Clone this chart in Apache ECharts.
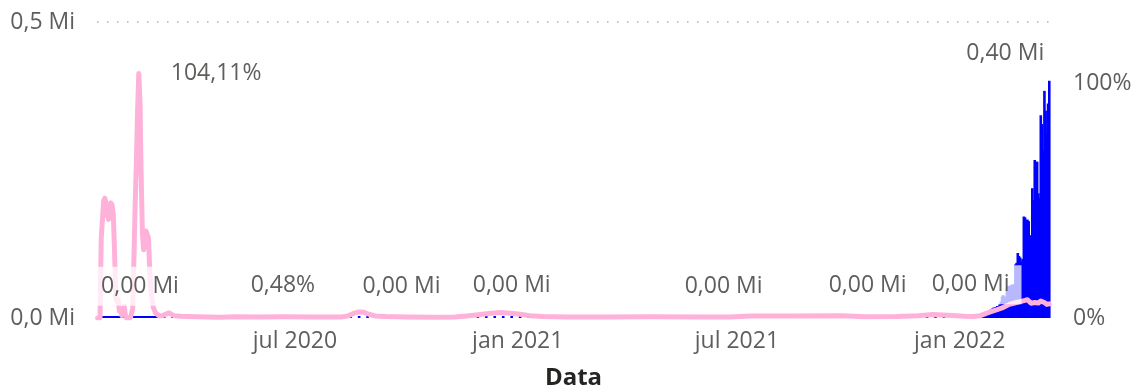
<!DOCTYPE html>
<html>
<head>
<meta charset="utf-8">
<script src="https://cdn.jsdelivr.net/npm/echarts@6/dist/echarts.min.js"></script>
<style>
  html, body { margin: 0; padding: 0; background: #ffffff; }
  #chart { width: 1132px; height: 391px; }
</style>
</head>
<body>
<div id="chart"></div>
<script>
// ---- data ----
const monthNames = ['jan', 'fev', 'mar', 'abr', 'mai', 'jun', 'jul', 'ago', 'set', 'out', 'nov', 'dez'];
const xTickDates = ['2020-07-01', '2021-01-01', '2021-07-01', '2022-01-01'];

// daily new cases, 2020-01-20 .. 2020-03-15
const casesEarlyStart = '2020-01-20';
const casesEarly = [
  1, 0, 0, 0, 1, 0, 1, 1, 0, 0, 2, 4,
  1, 3, 0, 1, 2, 5, 1, 0, 3, 0, 1, 0, 0, 0, 0, 1, 1, 1, 20, 53, 100, 229, 169, 231, 144, 284, 505, 571, 813,
  586, 599, 851, 435, 467, 505, 448, 272, 248, 131, 242, 114, 110, 107, 76
];

// weekly samples of new cases, 2020-03-22 .. 2021-12-26
const casesWeeklyStart = '2020-03-22';
const casesWeekly = [
  98, 105, 81, 32, 8, 10, 13, 34, 15, 25, 27, 57, 37, 17, 62, 61, 62, 26, 25, 30, 36,
  279, 397, 299, 167, 121, 82, 95, 64, 58, 76, 61, 124, 143, 223, 330, 450, 631, 1030, 1097, 970,
  1020, 665, 520, 437, 355, 393, 344, 416, 355, 416, 459, 456, 482, 543, 614, 672, 644, 606, 525, 610,
  530, 480, 556, 452, 429, 614, 743, 1324, 1454, 1487, 1219, 1729, 1817, 1626, 1619, 1490, 1755, 1909, 3272, 2086,
  1594, 1420, 1423, 2061, 2224, 2419, 3120, 3925, 5128, 6874, 6236, 5419
];

// daily new cases, 2022-01-01 .. 2022-03-16
const casesLateStart = '2022-01-01';
const casesLate = [
  4415, 3833, 3129, 4443, 4126, 4444, 3717, 3511, 3376, 3005, 4388, 4167, 4542, 4422, 4193, 4194,
  3857, 4071, 5805, 6603, 6767, 7009, 7630, 7513, 8571, 13012, 14518, 16096, 17542, 17528, 18342,
  20270, 20269, 22907, 27443, 36362, 38691, 35286, 36719, 49567, 54122, 53926, 54941, 56431, 54619,
  57177, 90443, 93135, 109831, 104829, 102211, 95362, 99573, 171452, 170016, 165890, 166209, 163566, 139626,
  138993, 219241, 198803, 266853, 254327, 264171, 210716, 202721, 342446, 327549, 282987, 383665,
  350190, 309790, 362338, 400741
];

// daily growth (%) at dated points
const rateDates = [
  '2020-01-20', '2020-01-22', '2020-01-23', '2020-01-24', '2020-01-25', '2020-01-26', '2020-01-27', '2020-01-28',
  '2020-01-29', '2020-01-30', '2020-01-31', '2020-02-01', '2020-02-02', '2020-02-03', '2020-02-04', '2020-02-05',
  '2020-02-06', '2020-02-07', '2020-02-08', '2020-02-09', '2020-02-10', '2020-02-11', '2020-02-12', '2020-02-13',
  '2020-02-16', '2020-02-18', '2020-02-19', '2020-02-20', '2020-02-21', '2020-02-22', '2020-02-23', '2020-02-24',
  '2020-02-25', '2020-02-26', '2020-02-27', '2020-02-28', '2020-02-29', '2020-03-01', '2020-03-02', '2020-03-03',
  '2020-03-04', '2020-03-05', '2020-03-06', '2020-03-08', '2020-03-11', '2020-03-14', '2020-03-19', '2020-03-23',
  '2020-03-29', '2020-04-10', '2020-05-01', '2020-05-12', '2020-06-01', '2020-06-21', '2020-07-15', '2020-08-08',
  '2020-08-14', '2020-08-19', '2020-08-23', '2020-08-27', '2020-08-31', '2020-09-05', '2020-09-14', '2020-10-01',
  '2020-10-25', '2020-11-10', '2020-11-20', '2020-12-01', '2020-12-10', '2020-12-18', '2020-12-26', '2021-01-03',
  '2021-01-11', '2021-01-22', '2021-02-10', '2021-03-15', '2021-04-20', '2021-06-01', '2021-06-25', '2021-07-12',
  '2021-08-15', '2021-09-26', '2021-10-15', '2021-11-10', '2021-11-28', '2021-12-10', '2021-12-22', '2022-01-05',
  '2022-01-12', '2022-01-18', '2022-01-24', '2022-01-30', '2022-02-05', '2022-02-11', '2022-02-16', '2022-02-20',
  '2022-02-24', '2022-02-26', '2022-03-01', '2022-03-04', '2022-03-07', '2022-03-09', '2022-03-12', '2022-03-14',
  '2022-03-16'
];
const rateValues = [
  0, 0, 34, 42, 50, 51, 49, 44,
  42, 46, 49, 48, 44, 28, 9, 7,
  8, 3, 4, 1, 3, 5, 1, 0,
  0, 4, 25, 48, 66, 88, 104.11, 92,
  60, 36, 29, 33, 37, 37, 34, 21,
  12, 8, 4.5, 2, 0.9, 1.1, 2.2, 1.0,
  0.7, 0.5, 0.3, 0.5, 0.4, 0.48, 0.45, 0.4,
  0.9, 2.1, 2.6, 2.4, 1.6, 0.9, 0.6, 0.4,
  0.35, 0.45, 0.9, 1.5, 2.0, 2.3, 2.0, 1.6,
  1.0, 0.6, 0.45, 0.45, 0.55, 0.45, 0.45, 0.85,
  0.85, 1.0, 0.55, 0.6, 1.0, 1.5, 1.2, 0.7,
  0.6, 1.0, 2.2, 3.2, 4.3, 5.8, 6.5, 7.0,
  7.5, 7.8, 6.3, 6.6, 6.4, 7.2, 6.6, 5.8,
  6.0
];

// dates whose values are written on the chart
const barLabelDates = ['2020-02-24', '2020-09-27', '2020-12-27', '2021-06-20', '2021-10-17', '2022-01-10', '2022-03-16'];
const rateLabelDates = ['2020-02-23', '2020-06-21'];

// ---- helpers ----
const DAY = 24 * 3600 * 1000;
function dateParts(s) { return s.split('-').map(Number); }
function toTime(s) { const p = dateParts(s); return new Date(p[0], p[1] - 1, p[2]).getTime(); }
function shiftDays(s, n) { const p = dateParts(s); return new Date(p[0], p[1] - 1, p[2] + n).getTime(); }

const casesSeries = [];
casesEarly.forEach((v, i) => casesSeries.push([shiftDays(casesEarlyStart, i), v]));
casesWeekly.forEach((v, i) => casesSeries.push([shiftDays(casesWeeklyStart, 7 * i), v]));
casesLate.forEach((v, i) => casesSeries.push([shiftDays(casesLateStart, i), v]));
const casesByTime = new Map(casesSeries.map(d => [d[0], d[1]]));

const rateSeries = rateDates.map((d, i) => [toTime(d), rateValues[i]]);
const rateByTime = new Map(rateSeries.map(d => [d[0], d[1]]));

const fmtMi = v => (v / 1e6).toFixed(2).replace('.', ',') + ' Mi';
const fmtAxisMi = v => (v / 1e6).toFixed(1).replace('.', ',') + ' Mi';
const fmtPct = v => v.toFixed(2).replace('.', ',') + '%';

const FONT = "'Segoe UI', 'Open Sans', sans-serif";
const TEXT = '#605E5C';
const labelBox = {
  show: true,
  color: TEXT,
  fontSize: 23,
  fontFamily: FONT,
  backgroundColor: 'rgba(255,255,255,0.72)',
  padding: [8, 12]
};

const barLabelData = barLabelDates.map((d, i) => {
  const t = toTime(d);
  const last = i === barLabelDates.length - 1;
  return {
    value: [t, casesByTime.get(t)],
    label: Object.assign({}, labelBox, {
      position: 'top',
      distance: last ? 8 : 12,
      offset: last ? [-44, 0] : [0, 0],
      formatter: p => fmtMi(p.value[1])
    })
  };
});

const rateLabelData = rateLabelDates.map((d, i) => {
  const t = toTime(d);
  return {
    value: [t, rateByTime.get(t)],
    label: Object.assign({}, labelBox, {
      position: i === 0 ? 'right' : 'top',
      distance: i === 0 ? 20 : 12,
      formatter: p => fmtPct(p.value[1])
    })
  };
});

const chart = echarts.init(document.getElementById('chart'), null, { renderer: 'canvas' });
chart.setOption({
  animation: false,
  grid: { left: 97, right: 82, top: 22, bottom: 73, outerBoundsMode: 'none' },
  xAxis: {
    // date axis drawn on a numeric scale of timestamps
    type: 'value',
    scale: true,
    min: toTime('2020-01-20') - 0.5 * DAY,
    max: toTime('2022-03-16') + 0.6 * DAY,
    axisLine: { show: false },
    axisTick: { show: false },
    splitLine: { show: false },
    axisLabel: {
      customValues: xTickDates.map(toTime),
      formatter: v => { const d = new Date(v); return monthNames[d.getMonth()] + ' ' + d.getFullYear(); },
      color: TEXT, fontSize: 23, fontFamily: FONT, margin: 12
    },
    name: 'Data',
    nameLocation: 'middle',
    nameGap: 48,
    nameTextStyle: { color: '#252423', fontSize: 24, fontWeight: 'bold', fontFamily: FONT }
  },
  yAxis: [
    {
      type: 'value', min: 0, max: 500000, interval: 500000,
      axisLine: { show: false }, axisTick: { show: false },
      axisLabel: { formatter: fmtAxisMi, color: TEXT, fontSize: 23, fontFamily: FONT, margin: 22 },
      splitLine: { show: true, showMinLine: false, lineStyle: { color: '#B3B0AD', width: 1.5, type: [1.5, 8.5] } }
    },
    {
      type: 'value', position: 'right', min: 0, max: 126, interval: 100,
      axisLine: { show: false }, axisTick: { show: false },
      axisLabel: {
        formatter: v => (v === 0 || v === 100) ? v + '%' : '',
        color: TEXT, fontSize: 23, fontFamily: FONT, margin: 23
      },
      splitLine: { show: false }
    }
  ],
  series: [
    {
      name: 'Casos',
      type: 'bar',
      data: casesSeries,
      barWidth: 2.6,
      barMinHeight: 2,
      itemStyle: { color: '#0000FF' },
      z: 2
    },
    {
      name: 'Variação',
      type: 'line',
      yAxisIndex: 1,
      data: rateSeries,
      showSymbol: false,
      lineStyle: { color: '#FFB2D9', width: 5, cap: 'round', join: 'round' },
      z: 3
    },
    {
      type: 'scatter', yAxisIndex: 0, symbolSize: 0, silent: true, z: 10,
      itemStyle: { opacity: 1 },
      data: barLabelData
    },
    {
      type: 'scatter', yAxisIndex: 1, symbolSize: 0, silent: true, z: 10,
      itemStyle: { opacity: 1 },
      data: rateLabelData
    }
  ]
});
</script>
</body>
</html>
